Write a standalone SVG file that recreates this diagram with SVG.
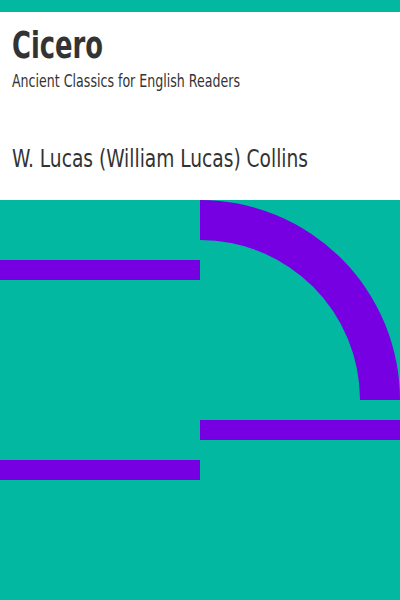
<svg xmlns="http://www.w3.org/2000/svg" width="400" height="600" viewBox="0 0 400 600">
<style>
.t{fill:#333333;font-family:"DejaVu Sans Condensed","DejaVu Sans",sans-serif}
.p{fill:#7700e2}
</style>
<rect x="0" y="0" width="400" height="600" fill="#ffffff"/>
<rect x="0" y="0" width="400" height="12" fill="#02b8a0"/>
<rect x="0" y="200" width="400" height="400" fill="#02b8a0"/>
<text class="t" x="12" y="58" font-size="38" font-weight="bold" textLength="91" lengthAdjust="spacingAndGlyphs">Cicero</text>
<text class="t" x="12" y="87" font-size="17" textLength="228" lengthAdjust="spacingAndGlyphs">Ancient Classics for English Readers</text>
<text class="t" x="12" y="167" font-size="25" textLength="296" lengthAdjust="spacingAndGlyphs">W. Lucas (William Lucas) Collins</text>
<path class="p" d="M200 200 A200 200 0 0 1 400 400 L360 400 A160 160 0 0 0 200 240 Z"/>
<rect class="p" x="0" y="260" width="200" height="20"/>
<rect class="p" x="200" y="420" width="200" height="20"/>
<rect class="p" x="0" y="460" width="200" height="20"/>
</svg>
